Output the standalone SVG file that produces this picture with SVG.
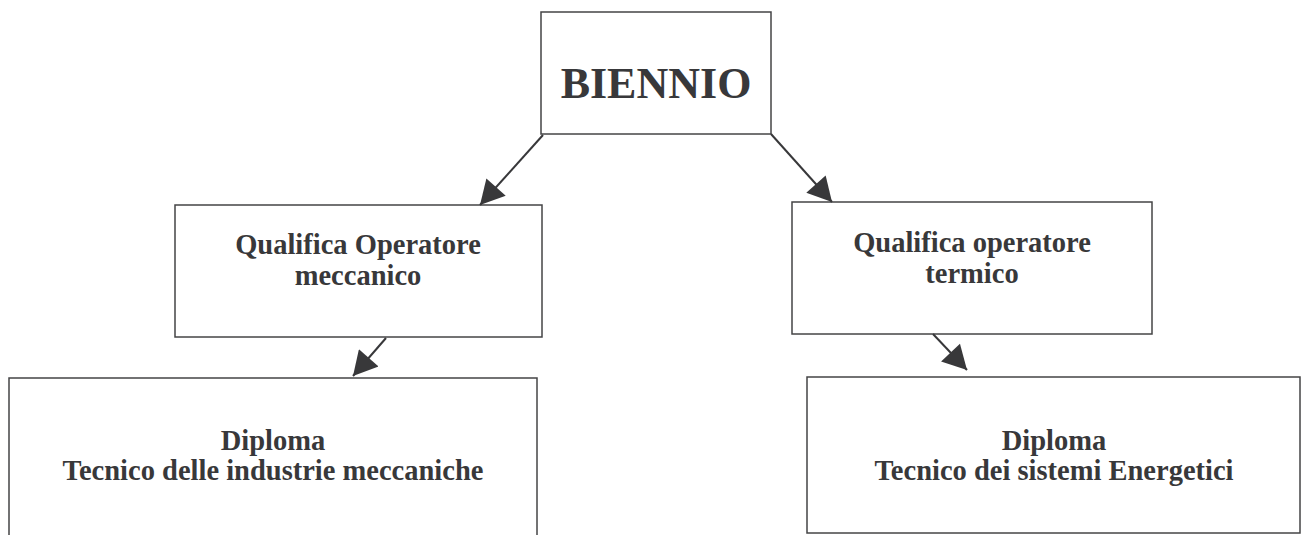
<svg xmlns="http://www.w3.org/2000/svg" width="1302" height="535" viewBox="0 0 1302 535">
<style>
.box{fill:#ffffff;stroke:#444446;stroke-width:1.5}
.t{font-family:"Liberation Serif","Times New Roman",serif;font-weight:bold;fill:#38383a;text-anchor:middle}
.s{font-size:28.5px}
.big{font-size:44px}
.c{stroke:#38383a;stroke-width:2;fill:none}
</style>
<defs>
<marker id="ah" markerUnits="userSpaceOnUse" markerWidth="26" markerHeight="26" viewBox="0 0 24 26" refX="24" refY="13" orient="auto">
<path d="M0,0 L24,13 L0,26 z" fill="#38383a"/>
</marker>
</defs>
<rect width="1302" height="535" fill="#ffffff"/>
<g id="n-biennio">
<rect class="box" x="541" y="12" width="230" height="122"/>
<text class="t big" x="656" y="98">BIENNIO</text>
</g>
<g id="n-qual-mecc">
<rect class="box" x="175" y="205" width="367" height="132"/>
<text class="t s" x="358" y="254">Qualifica Operatore</text>
<text class="t s" x="358" y="285">meccanico</text>
</g>
<g id="n-qual-term">
<rect class="box" x="792" y="202" width="360" height="132"/>
<text class="t s" x="972" y="252">Qualifica operatore</text>
<text class="t s" x="972" y="283">termico</text>
</g>
<g id="n-dipl-mecc">
<rect class="box" x="9" y="378" width="528" height="170"/>
<text class="t s" x="273" y="450">Diploma</text>
<text class="t s" x="273" y="480">Tecnico delle industrie meccaniche</text>
</g>
<g id="n-dipl-energ">
<rect class="box" x="807" y="377" width="493" height="156"/>
<text class="t s" x="1054" y="450">Diploma</text>
<text class="t s" x="1054" y="480">Tecnico dei sistemi Energetici</text>
</g>
<g id="connectors">
<line class="c" x1="543" y1="135" x2="480" y2="205" marker-end="url(#ah)"/>
<line class="c" x1="771" y1="134" x2="832" y2="202" marker-end="url(#ah)"/>
<line class="c" x1="386" y1="338" x2="353" y2="376" marker-end="url(#ah)"/>
<line class="c" x1="933" y1="334" x2="967" y2="370" marker-end="url(#ah)"/>
</g>
</svg>
